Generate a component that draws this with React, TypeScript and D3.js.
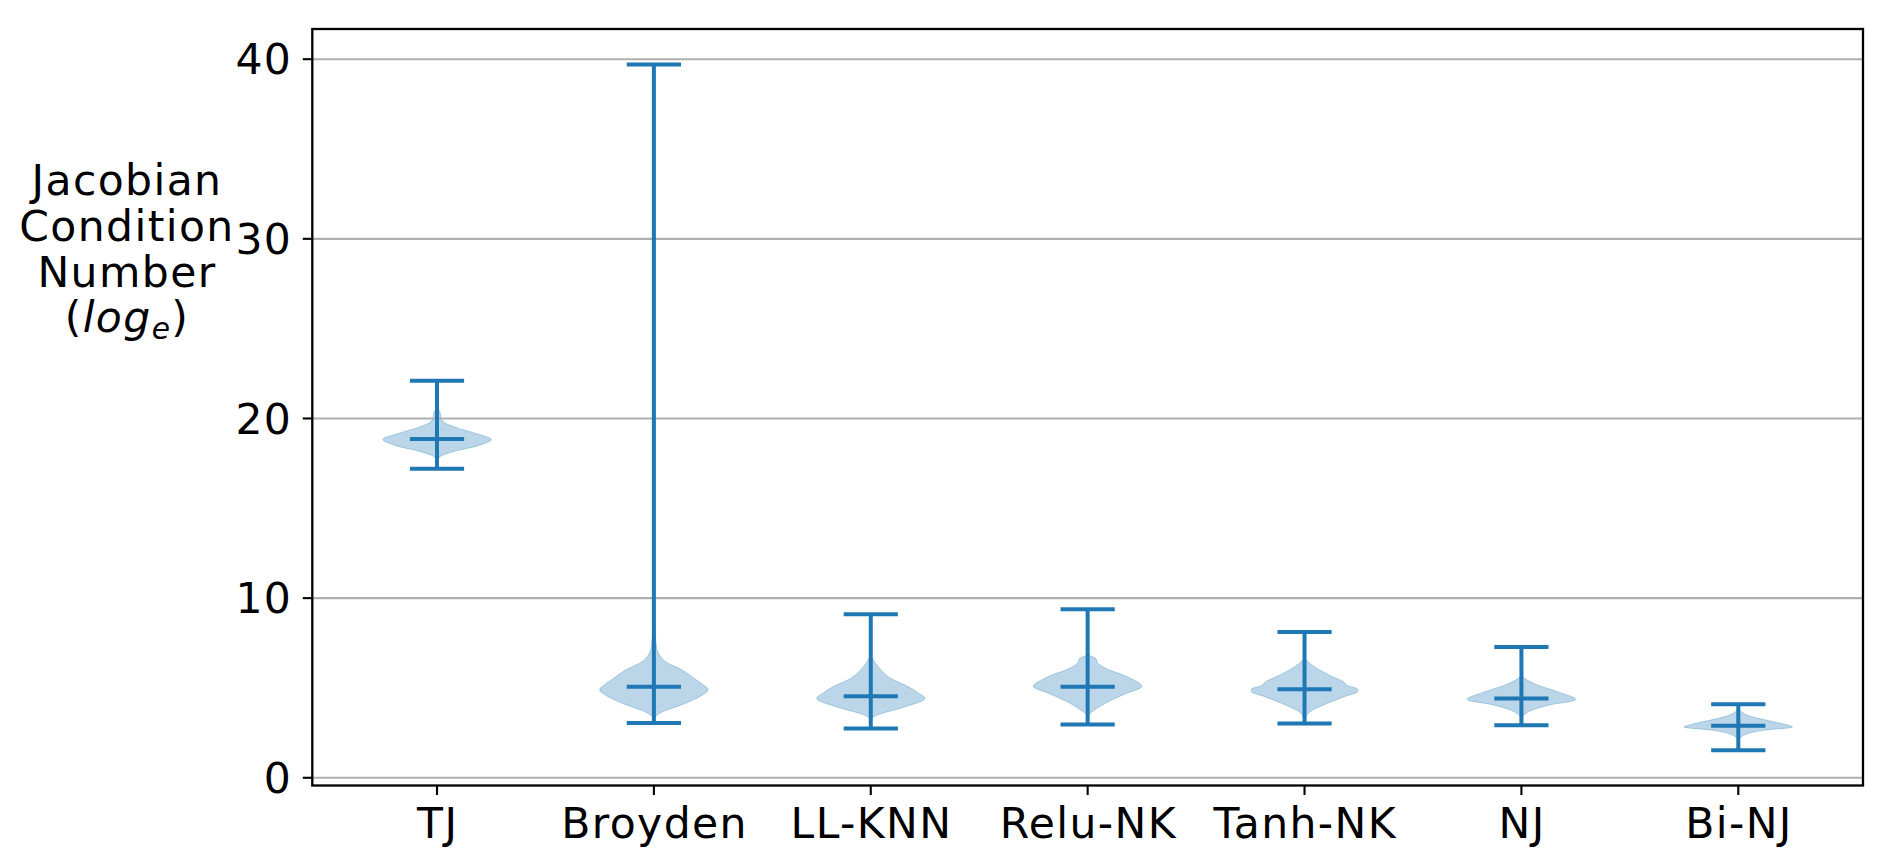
import React from "react";
import * as d3 from "d3";

const categories = ["TJ", "Broyden", "LL-KNN", "Relu-NK", "Tanh-NK", "NJ", "Bi-NJ"];
const maxValues = [22.1, 39.7, 9.1, 9.38, 8.12, 7.28, 4.09];
const meanValues = [18.86, 5.07, 4.54, 5.06, 4.93, 4.41, 2.89];
const minValues = [17.2, 3.05, 2.74, 2.96, 3.02, 2.92, 1.53];
const yTicks = [0, 10, 20, 30, 40];

// density profiles: [value, relative half-width]
const tjProfile: [number, number][] = [
  [17.2, 0], [17.6, 0.01], [17.86, 0.05], [18.14, 0.28], [18.5, 0.77], [18.83, 1.0],
  [19.16, 0.72], [19.53, 0.32], [19.8, 0.12], [20.05, 0.07], [20.3, 0.06], [20.5, 0.03], [20.7, 0],
];
const broydenProfile: [number, number][] = [
  [3.05, 0], [3.4, 0.03], [3.7, 0.18], [4.0, 0.46], [4.3, 0.7], [4.6, 0.89], [4.9, 1.0],
  [5.2, 0.9], [5.5, 0.76], [6.0, 0.52], [6.5, 0.2], [7.0, 0.07], [7.5, 0.04], [8.2, 0.02], [9.0, 0],
];
const llknnProfile: [number, number][] = [
  [2.74, 0], [3.3, 0.02], [3.48, 0.11], [3.94, 0.62], [4.41, 1.0], [4.75, 0.86], [5.06, 0.7],
  [5.61, 0.33], [6.17, 0.14], [6.5, 0.06], [6.73, 0.02], [7.0, 0],
];
const reluProfile: [number, number][] = [
  [2.96, 0], [3.48, 0.02], [3.76, 0.12], [4.22, 0.37], [4.69, 0.71], [5.1, 1.0], [5.61, 0.74],
  [6.08, 0.34], [6.4, 0.18], [6.64, 0.15], [6.78, 0.05], [6.85, 0],
];
const tanhProfile: [number, number][] = [
  [3.02, 0], [3.57, 0.06], [4.04, 0.34], [4.5, 0.72], [4.8, 0.98], [4.95, 0.97], [5.15, 0.78],
  [5.34, 0.72], [5.71, 0.46], [6.17, 0.19], [6.5, 0.05], [6.7, 0],
];
const njProfile: [number, number][] = [
  [2.92, 0], [3.39, 0.02], [3.66, 0.12], [4.04, 0.5], [4.37, 1.0], [4.78, 0.68], [5.15, 0.31],
  [5.45, 0.1], [5.65, 0.02], [5.8, 0],
];
const binjProfile: [number, number][] = [
  [1.53, 0], [2.0, 0.01], [2.18, 0.02], [2.42, 0.14], [2.64, 0.46], [2.83, 1.0], [2.98, 0.85],
  [3.2, 0.53], [3.48, 0.17], [3.76, 0.02], [3.9, 0],
];
const profiles = [tjProfile, broydenProfile, llknnProfile, reluProfile, tanhProfile, njProfile, binjProfile];

const W = 1893;
const H = 868;
const left = 312.3;
const right = 1863;
const top = 29;
const bottom = 785.5;
const C0 = "#1f77b4";
const FONT = "'DejaVu Sans', sans-serif";
const FS = 42.5;
const LS = 1.4;

export default function App() {
  const x = d3.scaleLinear().domain([0.425, 7.575]).range([left, right]);
  const y = d3.scaleLinear().domain([-0.43, 41.68]).range([bottom, top]);
  const halfW = x(1.25) - x(1); // 0.25 units
  const capW = x(1.125) - x(1);

  const bodies = profiles.map((p, i) => {
    const cx = x(i + 1);
    const area = d3
      .area<[number, number]>()
      .y((d) => y(d[0]))
      .x0((d) => cx - d[1] * halfW)
      .x1((d) => cx + d[1] * halfW)
      .curve(d3.curveCatmullRom);
    return area(p) || "";
  });

  return (
    <svg width={W} height={H} style={{ position: "absolute", left: 0, top: 0, background: "#fff" }}>
      <rect x={0} y={0} width={W} height={H} fill="#fff" />
      {bodies.map((d, i) => (
        <path key={"b" + i} d={d} fill={C0} fillOpacity={0.3} stroke={C0} strokeOpacity={0.3} strokeWidth={1} />
      ))}
      {yTicks.map((t) => (
        <line key={"g" + t} x1={left} x2={right} y1={y(t)} y2={y(t)} stroke="#b0b0b0" strokeWidth={2.1} />
      ))}
      {categories.map((c, i) => {
        const cx = x(i + 1);
        return (
          <g key={"l" + c} stroke={C0} strokeWidth={4}>
            <line x1={cx} x2={cx} y1={y(minValues[i])} y2={y(maxValues[i])} />
            <line x1={cx - capW} x2={cx + capW} y1={y(maxValues[i])} y2={y(maxValues[i])} />
            <line x1={cx - capW} x2={cx + capW} y1={y(minValues[i])} y2={y(minValues[i])} />
            <line x1={cx - capW} x2={cx + capW} y1={y(meanValues[i])} y2={y(meanValues[i])} />
          </g>
        );
      })}
      <rect x={left} y={top} width={right - left} height={bottom - top} fill="none" stroke="#000" strokeWidth={2.3} />
      {yTicks.map((t) => (
        <g key={"yt" + t}>
          <line x1={left - 9.5} x2={left} y1={y(t)} y2={y(t)} stroke="#000" strokeWidth={2.1} />
          <text x={left - 20} y={y(t)} dy="0.36em" textAnchor="end" fontFamily={FONT} fontSize={FS} letterSpacing={LS} fill="#000">
            {t}
          </text>
        </g>
      ))}
      {categories.map((c, i) => (
        <g key={"xt" + c}>
          <line x1={x(i + 1)} x2={x(i + 1)} y1={bottom} y2={bottom + 9.5} stroke="#000" strokeWidth={2.1} />
          <text x={x(i + 1) + LS / 2} y={838} textAnchor="middle" fontFamily={FONT} fontSize={FS} letterSpacing={LS} fill="#000">
            {c}
          </text>
        </g>
      ))}
      <g fontFamily={FONT} fontSize={FS} fill="#000" textAnchor="middle" letterSpacing={LS}>
        <text x={127} y={194.5}>Jacobian</text>
        <text x={127} y={240.5}>Condition</text>
        <text x={127} y={286.5}>Number</text>
        <text x={127} y={331.5}>
          <tspan>(</tspan>
          <tspan fontStyle="italic">log</tspan>
          <tspan fontStyle="italic" fontSize={FS * 0.7} dy={7}>e</tspan>
          <tspan dy={-7}>)</tspan>
        </text>
      </g>
    </svg>
  );
}
